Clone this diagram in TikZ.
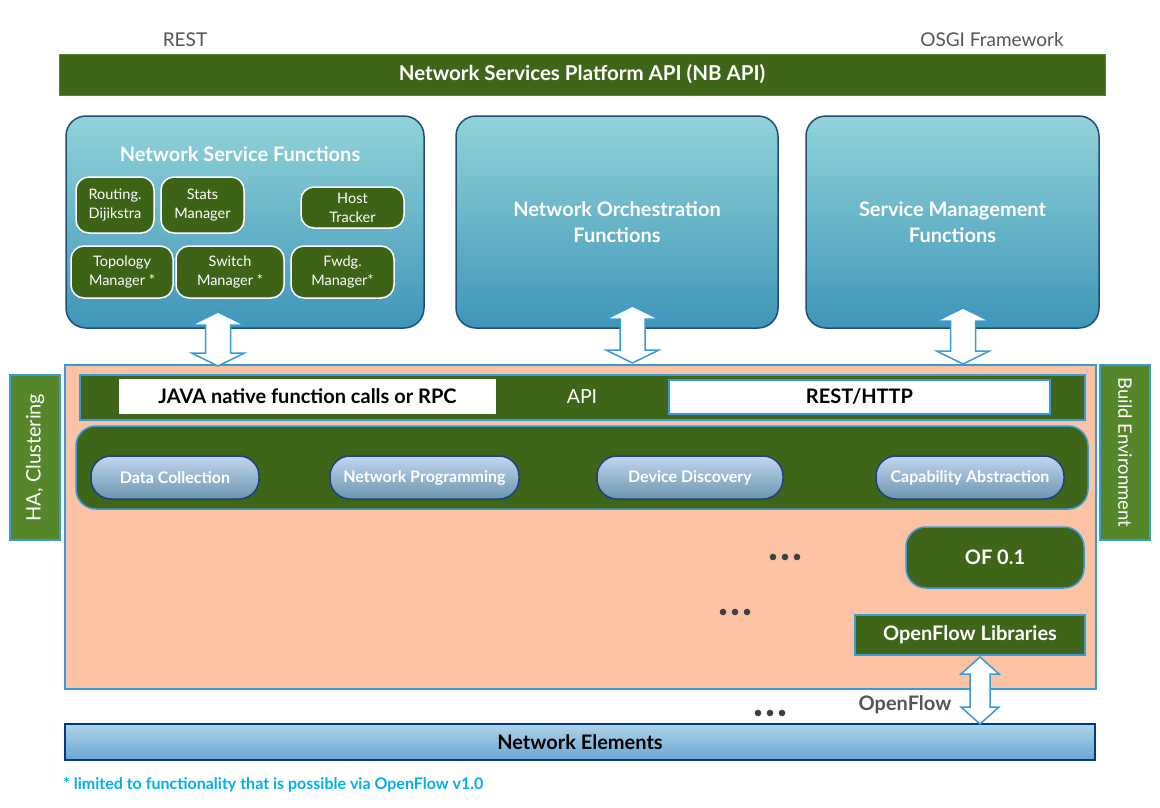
\documentclass[tikz,border=0pt]{standalone}
\usepackage{fontspec}
\setmainfont{Lato}
\definecolor{dkgreen}{HTML}{3F6618}
\definecolor{smgreen}{HTML}{3D6317}
\definecolor{olive}{HTML}{56862A}
\definecolor{salmon}{HTML}{FBC3A3}
\definecolor{lblue}{HTML}{3A9AD9}
\definecolor{navy}{HTML}{1F4E79}
\definecolor{teala}{HTML}{91D3D9}
\definecolor{tealb}{HTML}{3F96B8}
\definecolor{pilla}{HTML}{C2D6F0}
\definecolor{pillb}{HTML}{6A96AE}
\definecolor{pillbd}{HTML}{1F3F7F}
\definecolor{nea}{HTML}{AED4E6}
\definecolor{neb}{HTML}{6BA4D5}
\definecolor{nebd}{HTML}{003A80}
\definecolor{greytxt}{HTML}{555555}
\definecolor{dotc}{HTML}{404040}
\definecolor{foot}{HTML}{00AEEF}
\tikzset{
  x=1pt, y=-1pt,
  fs/.style={font=\pgfmathsetmacro\myls{#1*1.3}\fontsize{#1}{\myls}\selectfont},
  bfs/.style={font=\pgfmathsetmacro\myls{#1*1.3}\bfseries\fontsize{#1}{\myls}\selectfont},
  topbar/.style={draw=olive, line width=1pt, fill=dkgreen, text=white, inner sep=0},
  bigbox/.style={draw=navy, line width=1.5pt, rounded corners=20pt, top color=teala, bottom color=tealb, text=white, align=center, inner sep=0},
  smallbox/.style={draw=white, line width=1.5pt, fill=smgreen, rounded corners=13pt, text=white, align=center, inner sep=0, fs=14.5},
  bluegreen/.style={draw=lblue, line width=1.5pt, fill=dkgreen, text=white, inner sep=0},
  sidebox/.style={draw=lblue, line width=1.5pt, fill=olive, text=white, inner sep=0},
  pill/.style={draw=pillbd, line width=1.5pt, rounded corners=20pt, top color=pilla, bottom color=pillb, text=white, inner sep=0, bfs=16},
  blockarrow/.style={draw=lblue, line width=1.5pt, fill=white, line join=miter},
  dots/.style={fill=dotc}
}
\newcommand\dblarr[6]{% cx, ytop, ybot, head half width, shaft half width, head length
  \path[blockarrow] (#1,#2) -- (#1+#4,#2+#6) -- (#1+#5,#2+#6) -- (#1+#5,#3-#6) -- (#1+#4,#3-#6)
    -- (#1,#3) -- (#1-#4,#3-#6) -- (#1-#5,#3-#6) -- (#1-#5,#2+#6) -- (#1-#4,#2+#6) -- cycle;}
\newcommand\threedots[2]{%
  \fill[dots] (#1-12,#2) circle (3.3pt) (#1,#2) circle (3.3pt) (#1+12,#2) circle (3.3pt);}
\begin{document}
\begin{tikzpicture}
\useasboundingbox (0,0) rectangle (1160,807);
% top labels
\node[fs=19, text=greytxt] (rest) at (185,40) {REST};
\node[fs=19, text=greytxt] (osgi) at (992,40) {OSGI Framework};
\node[topbar, minimum width=1046, minimum height=41, bfs=20.5] (nbapi) at (582,74.5) {Network Services Platform API (NB API)};
% three upper boxes
\node[bigbox, minimum width=358, minimum height=212] (nsf) at (245,222) {};
\node[text=white, bfs=20] (nsft) at (240,154) {Network Service Functions};
\node[bigbox, minimum width=322, minimum height=212, bfs=20] (orch) at (617,222) {Network Orchestration\\Functions};
\node[bigbox, minimum width=293, minimum height=212, bfs=20] (smf) at (952.5,222) {Service Management\\Functions};
% small function boxes
\node[smallbox, minimum width=78, minimum height=56] (rout) at (115,205) {Routing.\\Dijikstra};
\node[smallbox, minimum width=83, minimum height=56] (stats) at (202.5,205) {Stats\\Manager};
\node[smallbox, minimum width=103, minimum height=41] (host) at (352.5,207.5) {Host\\Tracker};
\node[smallbox, minimum width=102, minimum height=52] (topo) at (122,272) {Topology\\Manager *};
\node[smallbox, minimum width=108, minimum height=52] (swm) at (230,272) {Switch\\Manager *};
\node[smallbox, minimum width=103, minimum height=52] (fwd) at (342.5,272) {Fwdg.\\Manager*};
% side boxes
\node[sidebox, minimum width=50, minimum height=165] (ha) at (35,457.5) {};
\node[rotate=90, text=white, fs=20] (hat) at (ha.center) {HA, Clustering};
\node[sidebox, minimum width=50, minimum height=175] (build) at (1125,452.5) {};
\node[rotate=-90, text=white, fs=18.5] (bt) at (build.center) {Build Environment};
% controller area
\node[draw=lblue, line width=1.5pt, fill=salmon, minimum width=1031, minimum height=324, inner sep=0] (ctrl) at (580.5,527) {};
\node[bluegreen, minimum width=1005, minimum height=45] (apibar) at (582.5,397.5) {};
\node[fill=white, minimum width=377, minimum height=35, inner sep=0, text=black, bfs=20] (java) at (307.5,396.5) {JAVA native function calls or RPC};
\node[text=white, fs=19.5] (api) at (582,397) {API};
\node[draw=lblue, line width=1.5pt, fill=white, minimum width=381, minimum height=34, inner sep=0, text=black, bfs=20] (resth) at (859.5,397) {REST/HTTP};
\node[bluegreen, rounded corners=20pt, minimum width=1012, minimum height=83] (svc) at (582,467.5) {};
\node[pill, minimum width=168, minimum height=43] (dc) at (175,477.5) {Data Collection};
\node[pill, minimum width=189, minimum height=43] (np) at (424.5,477.5) {Network Programming};
\node[pill, minimum width=186, minimum height=43] (dd) at (690,477.5) {Device Discovery};
\node[pill, minimum width=188, minimum height=43] (ca) at (970,477.5) {Capability Abstraction};
\node[bluegreen, rounded corners=20pt, minimum width=178, minimum height=61, bfs=20] (of) at (995,557.5) {OF 0.1};
\node[bluegreen, minimum width=230, minimum height=40, bfs=20] (ofl) at (970,635) {OpenFlow Libraries};
\threedots{785}{557}
\threedots{735}{612}
\threedots{770}{713}
% network elements
\node[draw=nebd, line width=2pt, top color=nea, bottom color=neb, minimum width=1030, minimum height=36, inner sep=0, text=black, bfs=20] (ne) at (580,742) {Network Elements};
\node[text=greytxt, bfs=20] (ofw) at (905,705) {OpenFlow};
% block arrows
\dblarr{218}{312}{366}{26.5}{12.5}{13}
\dblarr{632.5}{306}{363}{26.5}{12.5}{13}
\dblarr{963}{308}{364}{26.5}{12.5}{13}
\dblarr{980}{657}{724}{19}{10}{17}
% footnote
\node[anchor=west, text=foot, bfs=16, inner sep=0] (fn) at (63,785) {* limited to functionality that is possible via OpenFlow v1.0};
\end{tikzpicture}
\end{document}
